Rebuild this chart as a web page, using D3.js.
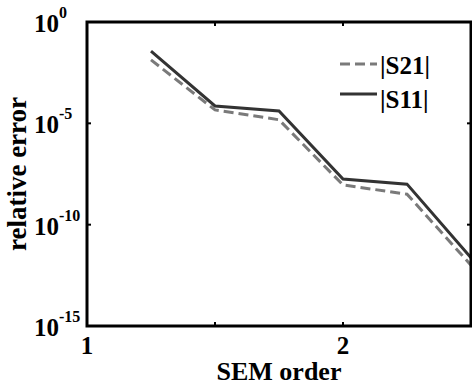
<!DOCTYPE html>
<html>
<head>
<meta charset="utf-8">
<script src="https://cdn.jsdelivr.net/npm/d3@7"></script>
<style>
  body { margin: 0; background: #fff; }
  svg text { font-family: "Liberation Serif", "Times New Roman", serif; font-weight: bold; fill: #000; }
</style>
</head>
<body>
<svg id="chart"></svg>
<script>
// data
const order = [1.25, 1.5, 1.75, 2, 2.25, 2.5];
const s21 = [1.35e-2, 4.6e-5, 1.5e-5, 9.1e-9, 3.2e-9, 1.0e-12];
const s11 = [3.7e-2, 7.2e-5, 4.1e-5, 1.8e-8, 1.0e-8, 2.3e-12];
const xTicks = [1, 1.5, 2, 2.5];
const xTickLabels = ["1", "", "2", ""];
const yTicks = [1e0, 1e-5, 1e-10, 1e-15];
const yExponents = ["0", "-5", "-10", "-15"];

const width = 472;
const height = 385;
const margin = { left: 87, right: 1, top: 22, bottom: 59 };
const visWidth = width - margin.left - margin.right;
const visHeight = height - margin.top - margin.bottom;

const svg = d3.select('svg#chart').attr('width', width).attr('height', height);
const g = svg.append('g').attr('transform', 'translate(' + margin.left + ',' + margin.top + ')');

const x = d3.scaleLinear().domain([1, 2.5]).range([0, visWidth]);
const y = d3.scaleLog().domain([1e-15, 1]).range([visHeight, 0]);

// clip
svg.append('clipPath').attr('id', 'clip')
  .append('rect').attr('width', visWidth).attr('height', visHeight);

const line = d3.line().x((d, i) => x(order[i])).y(d => y(d));

const lines = g.append('g').attr('clip-path', 'url(#clip)');
lines.append('path').datum(s21)
  .attr('d', line).attr('fill', 'none')
  .attr('stroke', '#7a7a7a').attr('stroke-width', 3)
  .attr('stroke-dasharray', '10,5');
lines.append('path').datum(s11)
  .attr('d', line).attr('fill', 'none')
  .attr('stroke', '#333').attr('stroke-width', 3);

// box
g.append('rect').attr('width', visWidth).attr('height', visHeight)
  .attr('fill', 'none').attr('stroke', '#000').attr('stroke-width', 3);

// ticks (inward)
const tickG = g.append('g').attr('stroke', '#000').attr('stroke-width', 2);
xTicks.forEach(t => {
  tickG.append('line').attr('x1', x(t)).attr('x2', x(t)).attr('y1', visHeight).attr('y2', visHeight - 4);
  tickG.append('line').attr('x1', x(t)).attr('x2', x(t)).attr('y1', 0).attr('y2', 4);
});
yTicks.forEach(t => {
  tickG.append('line').attr('x1', 0).attr('x2', 4).attr('y1', y(t)).attr('y2', y(t));
  tickG.append('line').attr('x1', visWidth).attr('x2', visWidth - 4).attr('y1', y(t)).attr('y2', y(t));
});

// x tick labels
xTicks.forEach((t, i) => {
  g.append('text').attr('x', x(t)).attr('y', visHeight + 28)
    .attr('text-anchor', 'middle').style('font-size', '25px').text(xTickLabels[i]);
});

// y tick labels 10^n
yTicks.forEach((t, i) => {
  const lab = svg.append('text').attr('x', 34).attr('y', margin.top + y(t) + 10).style('font-size', '25px');
  lab.append('tspan').text('10');
  lab.append('tspan').attr('dy', -14).style('font-size', '16px').text(yExponents[i]);
});

// axis labels
svg.append('text').attr('x', margin.left + visWidth / 2).attr('y', 380)
  .attr('text-anchor', 'middle').style('font-size', '26px').text('SEM order');
svg.append('text').attr('transform', 'translate(26,' + (margin.top + visHeight / 2) + ') rotate(-90)')
  .attr('text-anchor', 'middle').style('font-size', '27px').text('relative error');

// legend
const legend = svg.append('g');
legend.append('line').attr('x1', 340).attr('x2', 377).attr('y1', 64).attr('y2', 64)
  .attr('stroke', '#7a7a7a').attr('stroke-width', 3).attr('stroke-dasharray', '10,5');
legend.append('text').attr('x', 380).attr('y', 74).style('font-size', '25px').text('|S21|');
legend.append('line').attr('x1', 340).attr('x2', 377).attr('y1', 94).attr('y2', 94)
  .attr('stroke', '#333').attr('stroke-width', 3);
legend.append('text').attr('x', 380).attr('y', 108).style('font-size', '25px').text('|S11|');
</script>
</body>
</html>
